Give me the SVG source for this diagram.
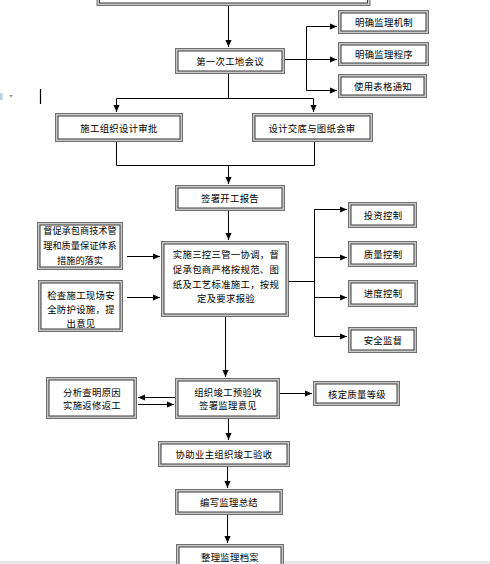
<svg xmlns="http://www.w3.org/2000/svg" width="490" height="564" viewBox="0 0 490 564">
<defs>
<marker id="ah" viewBox="0 0 8 8" refX="8" refY="4" markerWidth="7" markerHeight="7" markerUnits="userSpaceOnUse" orient="auto">
<path d="M0,0.5 L8,4 L0,7.5 Z" fill="#000"/>
</marker>
<style>
.o{fill:#c9c9c9;stroke:#6e6e6e;stroke-width:1}
.i{fill:#fff;stroke:#3a3a3a;stroke-width:1}
.t{font-family:"Noto Sans CJK SC","Noto Sans",sans-serif;font-size:9.4px;letter-spacing:0.3px;fill:#000;text-anchor:middle;dominant-baseline:central}
.n{letter-spacing:0;font-size:9.2px}
.c{fill:none;stroke:#000;stroke-width:1}
.a{fill:none;stroke:#000;stroke-width:1;marker-end:url(#ah)}
</style>
</defs>
<rect x="0" y="0" width="490" height="564" fill="#fff"/>
<!-- page artifacts -->
<rect x="0" y="93" width="2.5" height="7" fill="#b8d0ea"/>
<path d="M9,95 L13,95 L11,97.5 Z" fill="#9a9a9a"/>
<line x1="40.5" y1="89" x2="40.5" y2="104" stroke="#000" stroke-width="1.2"/>
<rect x="0" y="561" width="490" height="3" fill="#e6e6e6"/>

<g id="connectors">
<path class="a" d="M228.5,5 V47"/>
<path class="c" d="M284,59.5 H306.5"/>
<path class="c" d="M306.5,26.5 V90.5"/>
<path class="a" d="M306.5,26.5 H337"/>
<path class="a" d="M306.5,59.5 H337"/>
<path class="a" d="M306.5,90.5 H337"/>
<path class="c" d="M228.5,73 V98.5"/>
<path class="c" d="M116.5,98.5 H313.5"/>
<path class="a" d="M116.5,98.5 V112"/>
<path class="a" d="M313.5,98.5 V112"/>
<path class="c" d="M116.5,142 V165.5 H314.5 V142"/>
<path class="a" d="M228.5,165.5 V184"/>
<path class="a" d="M228.5,211 V240"/>
<path class="a" d="M127,256.5 H160"/>
<path class="a" d="M127,297.5 H160"/>
<path class="c" d="M289,281.5 H314.5"/>
<path class="c" d="M314.5,209.5 V336.5"/>
<path class="a" d="M314.5,209.5 H347"/>
<path class="a" d="M314.5,257.5 H347"/>
<path class="a" d="M314.5,297.5 H347"/>
<path class="a" d="M314.5,336.5 H347"/>
<path class="a" d="M225.5,317 V377"/>
<path class="a" d="M175,397.5 H138"/>
<path class="a" d="M138,404.5 H174"/>
<path class="a" d="M280,393.5 H312"/>
<path class="a" d="M228.5,418 V440"/>
<path class="a" d="M227.5,466 V488"/>
<path class="a" d="M227.5,514 V543"/>
</g>

<g id="n-top"><rect class="o" x="97" y="-5" width="273" height="10.5"/><rect class="i" x="99.5" y="-3" width="268" height="6"/></g>

<g id="n1"><rect class="o" x="175.5" y="48.5" width="109" height="25"/><rect class="i" x="178" y="51" width="104" height="20"/><text class="t" x="230" y="61">第一次工地会议</text></g>

<g id="n2"><rect class="o" x="338.5" y="10.5" width="90" height="23"/><rect class="i" x="341" y="13" width="85" height="18"/><text class="t" x="384" y="22">明确监理机制</text></g>
<g id="n3"><rect class="o" x="338.5" y="42.5" width="90" height="23"/><rect class="i" x="341" y="45" width="85" height="18"/><text class="t" x="384" y="54">明确监理程序</text></g>
<g id="n4"><rect class="o" x="338.5" y="74.5" width="88" height="23"/><rect class="i" x="341" y="77" width="83" height="18"/><text class="t" x="383" y="86">使用表格通知</text></g>

<g id="n5"><rect class="o" x="55.5" y="113.5" width="127" height="28"/><rect class="i" x="58" y="116" width="122" height="23"/><text class="t" x="119" y="128">施工组织设计审批</text></g>
<g id="n6"><rect class="o" x="252.5" y="113.5" width="120" height="28"/><rect class="i" x="255" y="116" width="115" height="23"/><text class="t" x="312" y="128">设计交底与图纸会审</text></g>

<g id="n7"><rect class="o" x="175.5" y="185.5" width="109" height="25"/><rect class="i" x="178" y="188" width="104" height="20"/><text class="t" x="230" y="198">签署开工报告</text></g>

<g id="n8"><rect class="o" x="37.5" y="222.5" width="85" height="47"/><rect class="i" x="40" y="225" width="80" height="42"/>
<text class="t n" x="80" y="230">督促承包商技术管</text><text class="t n" x="80" y="245">理和质量保证体系</text><text class="t n" x="80" y="260">措施的落实</text></g>
<g id="n9"><rect class="o" x="38.5" y="280.5" width="84" height="51"/><rect class="i" x="41" y="283" width="79" height="46"/>
<text class="t" x="81" y="295">检查施工现场安</text><text class="t" x="81" y="309">全防护设施，提</text><text class="t" x="81" y="323">出意见</text></g>

<g id="n10"><rect class="o" x="161.5" y="241.5" width="127" height="75"/><rect class="i" x="164" y="244" width="122" height="70"/>
<text class="t" x="226" y="254">实施三控三管一协调，督</text><text class="t" x="226" y="269">促承包商严格按规范、图</text><text class="t" x="226" y="284">纸及工艺标准施工，按规</text><text class="t" x="226" y="298">定及要求报验</text></g>

<g id="n11"><rect class="o" x="348.5" y="202.5" width="68" height="25"/><rect class="i" x="351" y="205" width="63" height="20"/><text class="t" x="383" y="215">投资控制</text></g>
<g id="n12"><rect class="o" x="348.5" y="241.5" width="68" height="25"/><rect class="i" x="351" y="244" width="63" height="20"/><text class="t" x="383" y="254">质量控制</text></g>
<g id="n13"><rect class="o" x="348.5" y="280.5" width="69" height="26"/><rect class="i" x="351" y="283" width="64" height="21"/><text class="t" x="383" y="293">进度控制</text></g>
<g id="n14"><rect class="o" x="348.5" y="327.5" width="68" height="25"/><rect class="i" x="351" y="330" width="63" height="20"/><text class="t" x="383" y="340">安全监督</text></g>

<g id="n15"><rect class="o" x="175.5" y="378.5" width="104" height="40"/><rect class="i" x="178" y="381" width="99" height="35"/>
<text class="t" x="228" y="392">组织竣工预验收</text><text class="t" x="228" y="405">签署监理意见</text></g>
<g id="n16"><rect class="o" x="46.5" y="377.5" width="90" height="41"/><rect class="i" x="49" y="380" width="85" height="36"/>
<text class="t" x="92" y="392">分析查明原因</text><text class="t" x="92" y="405">实施返修返工</text></g>
<g id="n17"><rect class="o" x="313.5" y="381.5" width="86" height="24"/><rect class="i" x="316" y="384" width="81" height="19"/><text class="t" x="357" y="394">核定质量等级</text></g>

<g id="n18"><rect class="o" x="158.5" y="441.5" width="131" height="25"/><rect class="i" x="161" y="444" width="126" height="20"/><text class="t" x="224" y="454">协助业主组织竣工验收</text></g>
<g id="n19"><rect class="o" x="175.5" y="489.5" width="107" height="25"/><rect class="i" x="178" y="492" width="102" height="20"/><text class="t" x="229" y="502">编写监理总结</text></g>
<g id="n20"><rect class="o" x="176.5" y="544.5" width="107" height="25"/><rect class="i" x="179" y="547" width="102" height="20"/><text class="t" x="230" y="557">整理监理档案</text></g>
</svg>
